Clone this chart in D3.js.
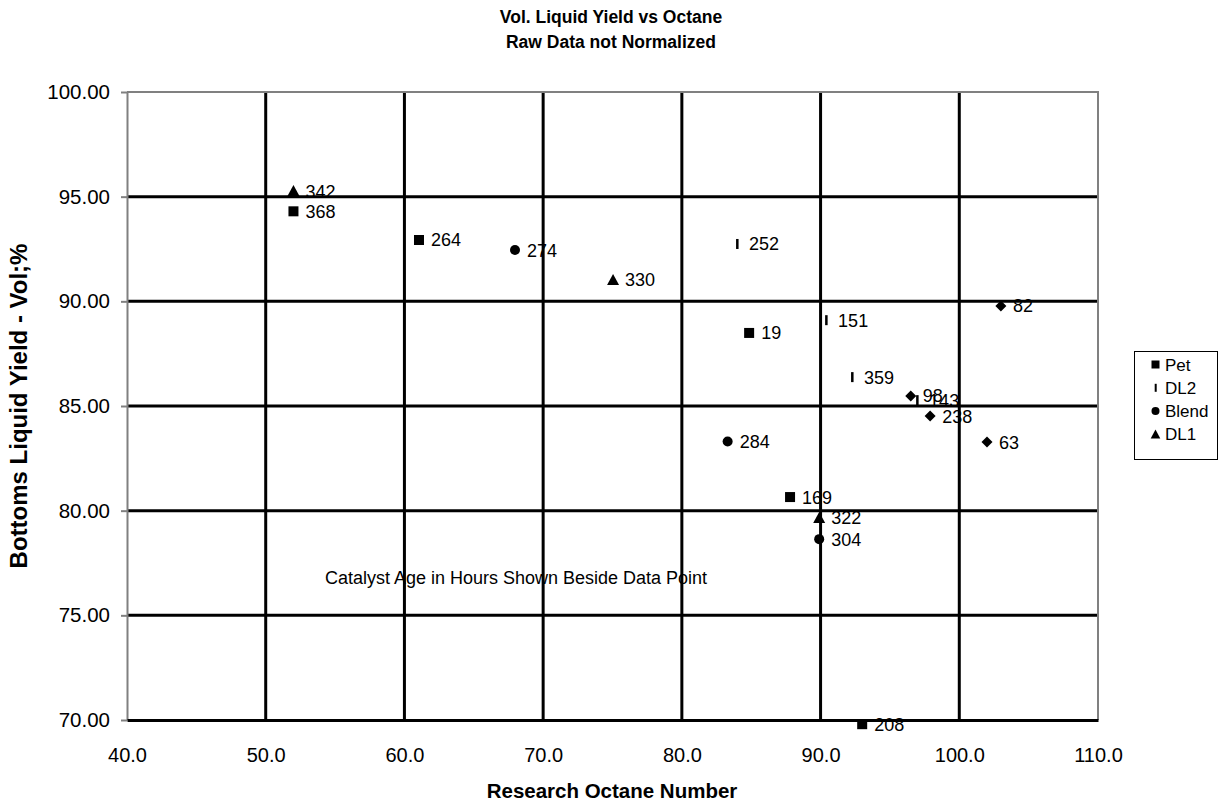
<!DOCTYPE html>
<html><head><meta charset="utf-8">
<script src="https://cdn.jsdelivr.net/npm/d3@7"></script>
<style>body{margin:0;background:#fff}svg{display:block;font-family:"Liberation Sans",Arial,sans-serif}</style>
</head><body><svg id="c" width="1221" height="801"></svg>
<script>
const xTicks = [40, 50, 60, 70, 80, 90, 100, 110];
const yTicks = [70, 75, 80, 85, 90, 95, 100];
const petX = [52.0, 61.05, 84.85, 87.8, 93.0];
const petY = [94.3, 92.93, 88.49, 80.65, 69.8];
const petHours = [368, 264, 19, 169, 208];
const dl2X = [83.98, 90.4, 92.27, 96.96];
const dl2Y = [92.74, 89.1, 86.38, 85.28];
const dl2Hours = [252, 151, 359, 143];
const blendX = [67.97, 83.3, 89.9];
const blendY = [92.45, 83.3, 78.64];
const blendHours = [274, 284, 304];
const dl1X = [52.0, 75.04, 89.9];
const dl1Y = [95.27, 91.02, 79.65];
const dl1Hours = [342, 330, 322];
const diaX = [103.0, 96.5, 97.9, 102.0];
const diaY = [89.78, 85.48, 84.52, 83.28];
const diaHours = [82, 98, 238, 63];
const legendNames = ["Pet", "DL2", "Blend", "DL1"];

const svg = d3.select("#c");
const L = 127, R = 1098, T = 92, B = 720;
const x = d3.scaleLinear().domain([40, 110]).range([L, R]);
const y = d3.scaleLinear().domain([70, 100]).range([B, T]);

// grid
const g = svg.append("g");
g.selectAll(".vg").data(xTicks.filter(d => d > 40 && d < 110)).join("line")
  .attr("x1", d => x(d)).attr("x2", d => x(d)).attr("y1", T).attr("y2", B)
  .attr("stroke", "#000").attr("stroke-width", 3);
g.selectAll(".hg").data(yTicks.filter(d => d > 70 && d < 100)).join("line")
  .attr("y1", d => y(d)).attr("y2", d => y(d)).attr("x1", L).attr("x2", R)
  .attr("stroke", "#000").attr("stroke-width", 3);
// borders
g.append("line").attr("x1", L).attr("x2", R + 1).attr("y1", T).attr("y2", T).attr("stroke", "#808080").attr("stroke-width", 2);
g.append("line").attr("x1", R).attr("x2", R).attr("y1", T).attr("y2", B).attr("stroke", "#808080").attr("stroke-width", 2);

// y axis
const yAxis = d3.axisLeft(y).tickValues(yTicks).tickFormat(d3.format(".2f")).tickSize(6).tickSizeOuter(0).tickPadding(11);
const ya = svg.append("g").attr("transform", `translate(${L},0)`).call(yAxis);
ya.select(".domain").attr("stroke", "#808080").attr("stroke-width", 2);
ya.selectAll(".tick line").attr("stroke", "#808080").attr("stroke-width", 2);
ya.selectAll("text").attr("font-size", 20.5).attr("fill", "#000").attr("font-family", "Liberation Sans, Arial");

// symbols
function marker(sel, type) {
  if (type === "square") sel.append("rect").attr("x", -5).attr("y", -5).attr("width", 10).attr("height", 10).attr("fill", "#000");
  else if (type === "bar") sel.append("rect").attr("x", -1).attr("y", -5).attr("width", 2.5).attr("height", 10).attr("fill", "#000");
  else if (type === "circle") sel.append("circle").attr("r", 5).attr("fill", "#000");
  else if (type === "triangle") sel.append("path").attr("d", "M0,-6L6,5L-6,5Z").attr("fill", "#000");
  else if (type === "diamond") sel.append("path").attr("d", "M0,-5.5L5.5,0L0,5.5L-5.5,0Z").attr("fill", "#000");
}
const series = [
  {xs: petX, ys: petY, hs: petHours, type: "square"},
  {xs: dl2X, ys: dl2Y, hs: dl2Hours, type: "bar"},
  {xs: blendX, ys: blendY, hs: blendHours, type: "circle"},
  {xs: dl1X, ys: dl1Y, hs: dl1Hours, type: "triangle"},
  {xs: diaX, ys: diaY, hs: diaHours, type: "diamond"}
];
const pts = svg.append("g");
series.forEach(s => {
  s.xs.forEach((xv, i) => {
    const p = pts.append("g").attr("transform", `translate(${x(xv)},${y(s.ys[i])})`);
    marker(p, s.type);
  });
});

// x axis (drawn over markers)
const xAxis = d3.axisBottom(x).tickValues(xTicks).tickFormat(d3.format(".1f")).tickSize(0).tickSizeOuter(0).tickPadding(28);
const xa = svg.append("g").attr("transform", `translate(0,${B})`).call(xAxis);
xa.select(".domain").attr("stroke", "#000").attr("stroke-width", 3);
xa.selectAll("text").attr("font-size", 20).attr("fill", "#000").attr("font-family", "Liberation Sans, Arial");

// labels on top
series.forEach(s => {
  s.xs.forEach((xv, i) => {
    svg.append("text").attr("x", x(xv) + 12).attr("y", y(s.ys[i]) + 6.5)
      .attr("font-size", 18).attr("fill", "#000").text(s.hs[i]);
  });
});

// note
svg.append("text").attr("x", 516).attr("y", 584).attr("text-anchor", "middle").attr("font-size", 18).text("Catalyst Age in Hours Shown Beside Data Point");

// titles
svg.append("text").attr("x", 611).attr("y", 23).attr("text-anchor", "middle").attr("font-size", 17.5).attr("font-weight", "bold").text("Vol. Liquid Yield vs Octane");
svg.append("text").attr("x", 611).attr("y", 48).attr("text-anchor", "middle").attr("font-size", 17.5).attr("font-weight", "bold").text("Raw Data not Normalized");
svg.append("text").attr("x", 612).attr("y", 798).attr("text-anchor", "middle").attr("font-size", 20.5).attr("font-weight", "bold").text("Research Octane Number");
svg.append("text").attr("transform", "translate(27,406) rotate(-90)").attr("text-anchor", "middle").attr("font-size", 24).attr("font-weight", "bold").text("Bottoms Liquid Yield - Vol;%");

// legend
const lg = svg.append("g").attr("transform", "translate(1134.5,351.5)");
lg.append("rect").attr("width", 83).attr("height", 108).attr("fill", "#fff").attr("stroke", "#000").attr("stroke-width", 1);
const types = ["square", "bar", "circle", "triangle"];
legendNames.forEach((n, i) => {
  const yy = 13 + i * 23.3;
  const m = lg.append("g").attr("transform", `translate(21,${yy}) scale(0.8)`);
  marker(m, types[i]);
  lg.append("text").attr("x", 30.5).attr("y", yy + 6).attr("font-size", 17).text(n);
});
</script></body></html>
